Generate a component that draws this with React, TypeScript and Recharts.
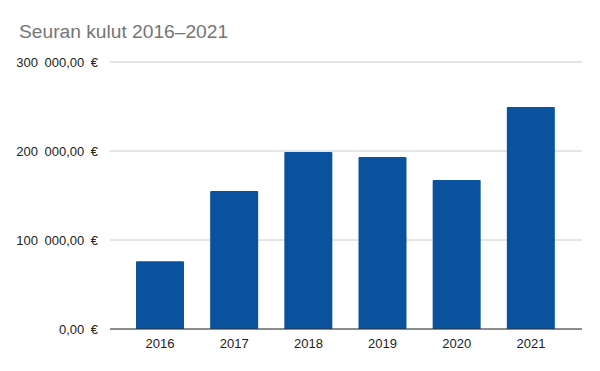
import React from "react";
import { BarChart, Bar, XAxis, YAxis, CartesianGrid } from "recharts";

const years = ["2016", "2017", "2018", "2019", "2020", "2021"];
const costs = [76000, 155000, 199000, 193300, 167400, 249500];
const yTicks = [0, 100000, 200000, 300000];

const data = years.map((y, i) => ({ year: y, kulut: costs[i] }));

const fmt = (v: number) => {
  const s = Math.round(v).toString().replace(/\B(?=(\d{3})+(?!\d))/g, "\u2002");
  return `${s},00\u2002€`;
};

export default function App() {
  return (
    <div style={{ position: "absolute", left: 0, top: 0, width: 600, height: 371, background: "#fff", fontFamily: "'Liberation Sans', Arial, sans-serif" }}>
      <div style={{ position: "absolute", left: 19, top: 21, fontSize: 19.2, lineHeight: "22px", color: "#757575", whiteSpace: "nowrap" }}>
        Seuran kulut 2016–2021
      </div>
      <BarChart width={600} height={371} data={data} margin={{ top: 62, right: 18, bottom: 0, left: 0 }}>
        <CartesianGrid vertical={false} stroke="#cccccc" />
        <XAxis
          dataKey="year"
          height={42}
          tickLine={false}
          tickSize={0}
          tickMargin={10}
          axisLine={{ stroke: "#333333" }}
          padding={{ left: 13, right: 14 }}
          tick={{ fill: "#222222", fontSize: 13 }}
        />
        <YAxis
          width={110}
          domain={[0, 300000]}
          ticks={yTicks}
          tickFormatter={fmt}
          axisLine={false}
          tickLine={false}
          tickSize={0}
          tickMargin={12}
          tick={{ fill: "#222222", fontSize: 13 }}
        />
        <Bar dataKey="kulut" fill="#0b529e" barSize={48} radius={[1, 1, 0, 0]} isAnimationActive={false} />
      </BarChart>
    </div>
  );
}
